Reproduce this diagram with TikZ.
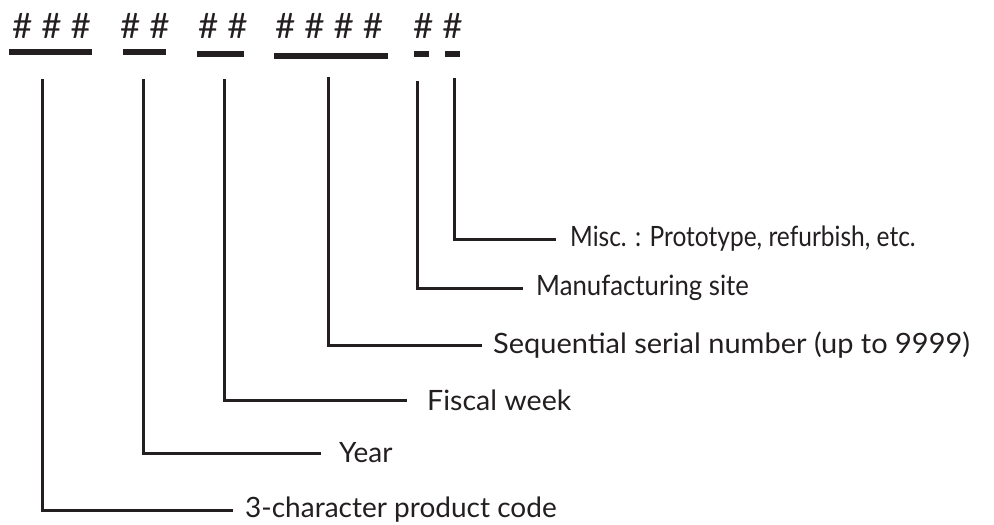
\documentclass[tikz,border=0pt]{standalone}
\usepackage{fontspec}
\setmainfont{Lato}
\definecolor{ink}{RGB}{35,31,32}
\begin{document}
\begin{tikzpicture}[x=1pt,y=-1pt,
  bar/.style={fill=ink,draw=none,minimum height=6pt,inner sep=0pt},
  hashes/.style={anchor=west,inner sep=0pt,text=ink,font=\fontsize{35}{35}\selectfont},
  lbl/.style={anchor=west,inner xsep=0pt,inner ysep=0pt,text=ink,font=\fontsize{28}{30}\selectfont},
  conn/.style={draw=ink,line width=3pt}]
\useasboundingbox (0,0) rectangle (994,525);
% hash groups
\node[hashes] (h1) at (12,26) {\# \# \#};
\node[hashes] (h2) at (120,26) {\# \#};
\node[hashes] (h3) at (198,26) {\# \#};
\node[hashes] (h4) at (275,26) {\# \# \# \#};
\node[hashes] (h5) at (413,26) {\# \#};
% underline bars
\node[bar,minimum width=83pt] (b1) at (50.5,52) {};
\node[bar,minimum width=43pt] (b2) at (144.5,52) {};
\node[bar,minimum width=47pt] (b3) at (220.5,54) {};
\node[bar,minimum width=114pt] (b4) at (331,56) {};
\node[bar,minimum width=15pt] (b5) at (421.5,54) {};
\node[bar,minimum width=15pt] (b6) at (452.5,54) {};
% labels
\node[lbl,xscale=0.875,transform shape] (l6) at (570,239) {Misc. : Prototype, refurbish, etc.};
\node[lbl,xscale=0.92,transform shape] (l5) at (536,288) {Manufacturing site};
\node[lbl,xscale=1.035,transform shape] (l4) at (493,345) {Sequential serial number (up to 9999)};
\node[lbl,xscale=1.02,transform shape] (l3) at (427,400) {Fiscal week};
\node[lbl] (l2) at (339,453) {Year};
\node[lbl] (l1) at (245,510) {3-character product code};
% connector tops
\coordinate (t1) at (42,79);
\coordinate (t2) at (143,79);
\coordinate (t3) at (224,79);
\coordinate (t4) at (328,77);
\coordinate (t5) at (417,81);
\coordinate (t6) at (454,78);
\draw[conn] (t1) |- ([xshift=-12pt]l1.west);
\draw[conn] (t2) |- ([xshift=-18pt]l2.west);
\draw[conn] (t3) |- ([xshift=-20pt]l3.west);
\draw[conn] (t4) |- ([xshift=-11pt]l4.west);
\draw[conn] (t5) |- ([xshift=-13pt]l5.west);
\draw[conn] (t6) |- ([xshift=-14pt]l6.west);
\end{tikzpicture}
\end{document}
